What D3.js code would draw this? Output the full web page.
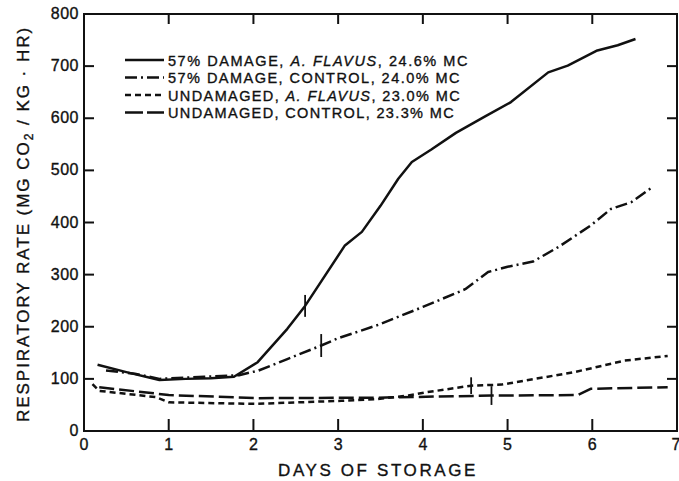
<!DOCTYPE html>
<html>
<head>
<meta charset="utf-8">
<script src="https://cdn.jsdelivr.net/npm/d3@7"></script>
<style>
  body { margin: 0; background: #fff; }
  svg { display: block; }
  text { font-family: "Liberation Sans", Arial, sans-serif; fill: #111; stroke: #111; stroke-width: 0.35px; }
</style>
</head>
<body>
<div class="chart"></div>
<script>
// values
var flavus57Days = [0.16, 0.5, 0.89, 1.2, 1.5, 1.77, 2.05, 2.4, 2.61, 3.08, 3.28, 3.5, 3.71, 3.87, 4.1, 4.39, 4.73, 5.04, 5.48, 5.71, 6.06, 6.3, 6.51];
var flavus57Vals = [127, 113, 98, 100, 101, 104, 132, 196, 240, 356, 382, 432, 484, 516, 540, 572, 603, 631, 688, 701, 730, 740, 752];

var control57Days = [0.26, 0.6, 0.89, 1.42, 1.83, 2.06, 2.4, 2.8, 3.0, 3.48, 4.0, 4.5, 4.77, 5.0, 5.3, 5.6, 5.98, 6.22, 6.46, 6.71];
var control57Vals = [116, 110, 100, 104, 107, 116, 138, 164, 178, 204, 238, 272, 305, 315, 325, 353, 394, 426, 439, 468];

var flavusUDays = [0.1, 0.18, 0.85, 1.0, 2.03, 3.04, 3.44, 3.83, 4.03, 4.57, 4.93, 5.79, 6.38, 6.89];
var flavusUVals = [90, 77, 65, 55, 52, 58, 61, 68, 74, 87, 89, 113, 135, 144];

var controlUDays = [0.18, 1.0, 2.06, 3.48, 4.81, 5.83, 5.98, 6.89];
var controlUVals = [84, 69, 63, 64, 68, 69, 81, 84];

// error bars: day, value, half-range
var errDays = [2.61, 2.8, 4.57, 4.81];
var errVals = [240, 164, 87, 68];
var errHalf = [21, 22, 16, 18];

var xTicks = [0, 1, 2, 3, 4, 5, 6, 7];
var yTicks = [0, 100, 200, 300, 400, 500, 600, 700, 800];

var legendLabels = [
  ["57% DAMAGE, ", "A. FLAVUS", ", 24.6% MC"],
  ["57% DAMAGE, CONTROL, 24.0% MC", "", ""],
  ["UNDAMAGED, ", "A. FLAVUS", ", 23.0% MC"],
  ["UNDAMAGED, CONTROL, 23.3% MC", "", ""]
];

var svgWidth = 679, svgHeight = 481;
var margin = { top: 14, bottom: 50, right: 2, left: 84 };
var width = svgWidth - margin.left - margin.right;
var height = svgHeight - margin.top - margin.bottom;

var svg = d3.select(".chart").append("svg")
  .attr("width", svgWidth)
  .attr("height", svgHeight);

var chartGroup = svg.append("g")
  .attr("transform", `translate(${margin.left}, ${margin.top})`);

var x = d3.scaleLinear().domain([0, 7]).range([0, width]);
var y = d3.scaleLinear().domain([0, 800]).range([height, 0]);

// frame
chartGroup.append("rect")
  .attr("width", width).attr("height", height)
  .attr("fill", "none").attr("stroke", "#111").attr("stroke-width", 2);

// inward ticks on all sides
chartGroup.selectAll(".xtb").data(xTicks.slice(1, -1)).enter().append("line")
  .attr("x1", d => x(d)).attr("x2", d => x(d))
  .attr("y1", height).attr("y2", height - 12)
  .attr("stroke", "#111").attr("stroke-width", 2);
chartGroup.selectAll(".xtt").data(xTicks.slice(1, -1)).enter().append("line")
  .attr("x1", d => x(d)).attr("x2", d => x(d))
  .attr("y1", 0).attr("y2", 10)
  .attr("stroke", "#111").attr("stroke-width", 2);
chartGroup.selectAll(".ytl").data(yTicks.slice(1, -1)).enter().append("line")
  .attr("x1", 0).attr("x2", 10)
  .attr("y1", d => y(d)).attr("y2", d => y(d))
  .attr("stroke", "#111").attr("stroke-width", 2);
chartGroup.selectAll(".ytr").data(yTicks.slice(1, -1)).enter().append("line")
  .attr("x1", width).attr("x2", width - 10)
  .attr("y1", d => y(d)).attr("y2", d => y(d))
  .attr("stroke", "#111").attr("stroke-width", 2);

// tick labels
chartGroup.selectAll(".xl").data(xTicks).enter().append("text")
  .attr("x", d => d == 7 ? x(d) - 1 : x(d)).attr("y", height + 19)
  .attr("text-anchor", "middle").attr("font-size", "16px")
  .text(d => d);
chartGroup.selectAll(".yl").data(yTicks).enter().append("text")
  .attr("x", -5).attr("y", d => y(d) + 5)
  .attr("text-anchor", "end").attr("font-size", "16px")
  .attr("letter-spacing", "0.5px")
  .text(d => d);

// data lines
var line = d3.line().x(d => x(d[0])).y(d => y(d[1]));
var series = [
  { days: flavus57Days, vals: flavus57Vals, dash: null },
  { days: control57Days, vals: control57Vals, dash: "12 4 2 4" },
  { days: flavusUDays, vals: flavusUVals, dash: "6 4" },
  { days: controlUDays, vals: controlUVals, dash: "15 5" }
];
series.forEach(function(s) {
  chartGroup.append("path")
    .datum(d3.zip(s.days, s.vals))
    .attr("d", line)
    .attr("fill", "none")
    .attr("stroke", "#111")
    .attr("stroke-width", 2.5)
    .attr("stroke-linejoin", "round")
    .attr("stroke-dasharray", s.dash);
});

// error bars
chartGroup.selectAll(".err").data(d3.range(errDays.length)).enter().append("line")
  .attr("x1", i => x(errDays[i])).attr("x2", i => x(errDays[i]))
  .attr("y1", i => y(errVals[i] - errHalf[i]))
  .attr("y2", i => y(errVals[i] + errHalf[i]))
  .attr("stroke", "#111").attr("stroke-width", 1.8);

// legend
var legend = svg.append("g");
var rowY = [60, 77.5, 95, 112.5];
var rowW = [301, 293, 293, 287];
legendLabels.forEach(function(lab, i) {
  var s = series[i];
  legend.append("line")
    .attr("x1", 125).attr("x2", 164)
    .attr("y1", rowY[i]).attr("y2", rowY[i])
    .attr("stroke", "#111").attr("stroke-width", 2.5)
    .attr("stroke-dasharray", i == 3 ? "18 4" : s.dash);
  var t = legend.append("text")
    .attr("x", 168).attr("y", rowY[i] + 5.5)
    .attr("font-size", "14.5px");
  t.append("tspan").text(lab[0]);
  if (lab[1]) t.append("tspan").attr("font-style", "italic").text(lab[1]);
  if (lab[2]) t.append("tspan").text(lab[2]);
  var nat = t.node().getComputedTextLength();
  var n = (lab[0] + lab[1] + lab[2]).length;
  t.attr("letter-spacing", ((rowW[i] - nat) / n) + "px");
});

// axis titles
var xt = svg.append("text")
  .attr("x", 278).attr("y", 476)
  .attr("font-size", "17px")
  .text("DAYS OF STORAGE");
xt.attr("letter-spacing", ((200 - xt.node().getComputedTextLength()) / 15) + "px");

var yt = svg.append("text")
  .attr("transform", "translate(29, 422) rotate(-90)")
  .attr("font-size", "17px");
yt.append("tspan").text("RESPIRATORY RATE (MG CO");
yt.append("tspan").attr("font-size", "12px").attr("dy", 4).text("2");
yt.append("tspan").attr("dy", -4).text(" / KG \u00B7 HR)");
var ytn = yt.node().getComputedTextLength();
yt.attr("letter-spacing", ((398 - ytn) / 36) + "px");
</script>
</body>
</html>
